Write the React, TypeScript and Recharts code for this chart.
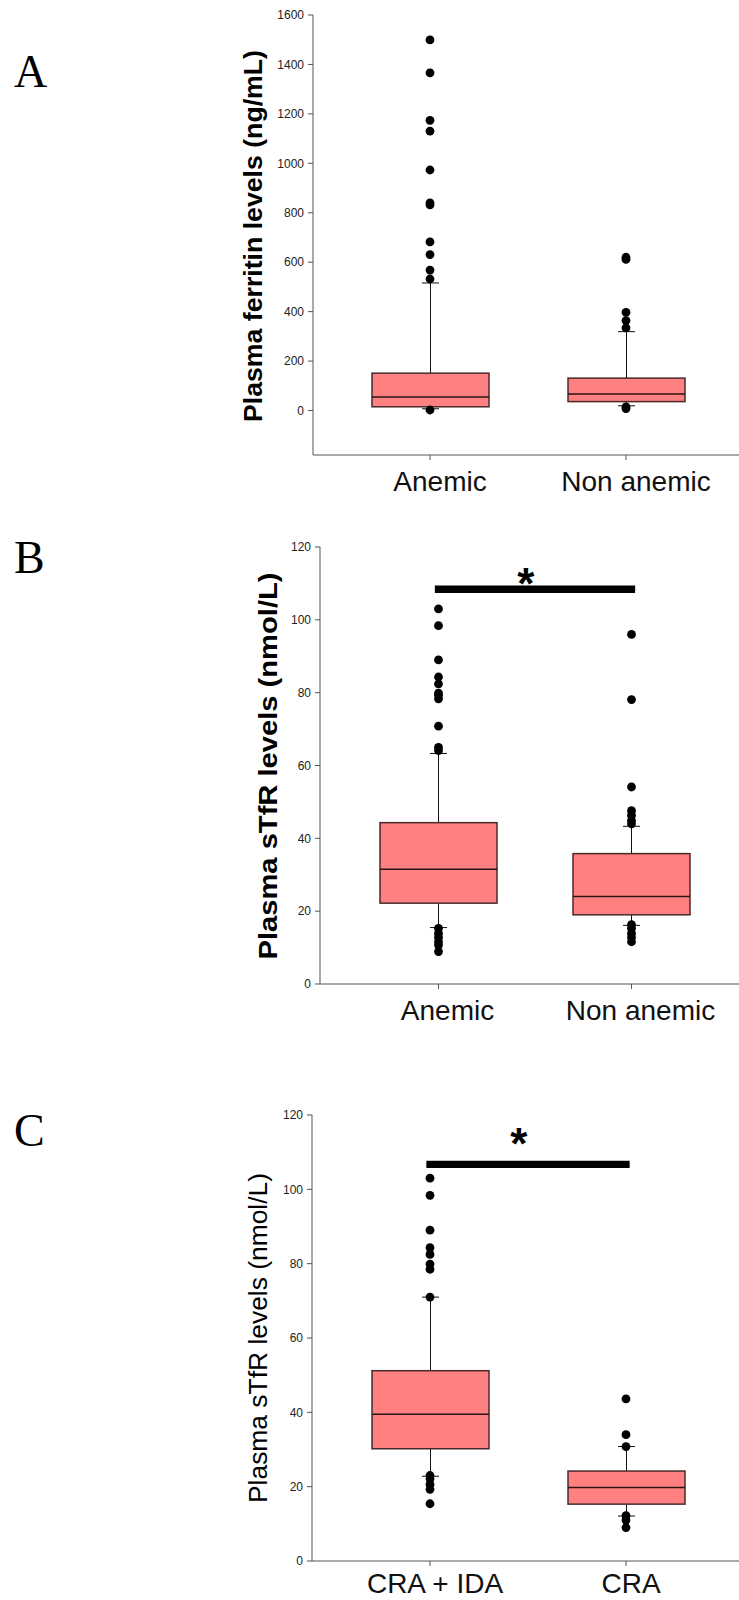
import { Bar, ComposedChart, ReferenceLine, Scatter, XAxis, YAxis } from "recharts";

const groupsAB = ["Anemic", "Non anemic"];
const groupsC = ["CRA + IDA", "CRA"];

// A: plasma ferritin (ng/mL)
const ferritinLow = [7, 19];
const ferritinQ1 = [15, 36];
const ferritinMedian = [55, 67];
const ferritinQ3 = [151, 131];
const ferritinHigh = [516, 319];
const ferritinOutAnemic = [1499, 1366, 1174, 1130, 973, 840, 832, 682, 631, 568, 532, 2];
const ferritinOutNonAnemic = [620, 611, 397, 364, 334, 15, 8];
const ferritinTicks = [0, 200, 400, 600, 800, 1000, 1200, 1400, 1600];

// B: plasma sTfR (nmol/L), anemic vs non anemic
const stfrLow = [15.5, 16.1];
const stfrQ1 = [22.2, 19.0];
const stfrMedian = [31.5, 24.0];
const stfrQ3 = [44.3, 35.8];
const stfrHigh = [63.3, 43.3];
const stfrOutAnemic = [103.0, 98.4, 89.0, 84.3, 82.4, 79.9, 79.3, 78.3, 70.8, 65.0, 64.1, 15.3, 13.9, 12.8, 11.6, 10.7, 8.9];
const stfrOutNonAnemic = [96.0, 78.1, 54.1, 47.6, 46.3, 44.9, 44.0, 16.3, 15.3, 13.9, 12.8, 11.6];
const stfrSig = 108.4;

// C: plasma sTfR (nmol/L), CRA + IDA vs CRA
const craLow = [22.8, 12.1];
const craQ1 = [30.2, 15.3];
const craMedian = [39.5, 19.8];
const craQ3 = [51.2, 24.2];
const craHigh = [71.0, 30.8];
const craOutIda = [103.0, 98.4, 89.0, 84.3, 82.5, 79.9, 78.5, 71.0, 23.0, 22.1, 20.6, 19.3, 15.4];
const craOutOnly = [43.6, 34.0, 30.8, 12.2, 11.0, 9.0];
const craSig = 106.7;

const stfrTicks = [0, 20, 40, 60, 80, 100, 120];

const FONT = "'Liberation Sans', Arial, sans-serif";

type BoxRow = {
  name: string;
  box: [number, number];
  lo: number;
  q1: number;
  med: number;
  q3: number;
  hi: number;
};

type OutlierRow = { name: string; v: number };

function boxRows(names: string[], lo: number[], q1: number[], med: number[], q3: number[], hi: number[]): BoxRow[] {
  return names.map((name, i) => ({
    name,
    box: [q1[i], q3[i]],
    lo: lo[i],
    q1: q1[i],
    med: med[i],
    q3: q3[i],
    hi: hi[i],
  }));
}

function outlierRows(name: string, values: number[]): OutlierRow[] {
  return values.map((v) => ({ name, v }));
}

// box + whiskers, using the bar's own pixel scale (height / (q3 - q1))
function BoxShape(props: any) {
  const { x, y, width, height } = props;
  const p = props.payload as BoxRow;
  const top = Math.min(y, y + height);
  const h = Math.abs(height);
  const k = h / (p.q3 - p.q1);
  const bottom = top + h;
  const cx = x + width / 2;
  const yHi = top - (p.hi - p.q3) * k;
  const yLo = bottom + (p.q1 - p.lo) * k;
  const yMed = top + (p.q3 - p.med) * k;
  const cap = 8.5;
  return (
    <g>
      <line x1={cx} x2={cx} y1={yHi} y2={top} stroke="#111" />
      <line x1={cx} x2={cx} y1={bottom} y2={yLo} stroke="#111" />
      <line x1={cx - cap} x2={cx + cap} y1={yHi} y2={yHi} stroke="#111" />
      <line x1={cx - cap} x2={cx + cap} y1={yLo} y2={yLo} stroke="#111" />
      <rect x={x} y={top} width={width} height={h} fill="#FF8080" stroke="#4a2a2a" strokeWidth={1.5} />
      <line x1={x} x2={x + width} y1={yMed} y2={yMed} stroke="#2a1515" strokeWidth={1.5} />
    </g>
  );
}

function OutlierDot(props: any) {
  return <circle cx={props.cx} cy={props.cy} r={4.4} fill="#000" />;
}

type PanelProps = {
  rows: BoxRow[];
  outliers: OutlierRow[];
  domain: [number, number];
  ticks: number[];
  height: number;
  marginTop: number;
  axisWidth: number;
  xAxisHeight: number;
  padding: { left: number; right: number };
  yLabel: string;
  labelBold: boolean;
  labelX: number;
  labelY: number;
  labelLength: number;
  tickDx: number;
  tickDy: number;
  sig?: number;
  starDy?: number;
};

function Panel(p: PanelProps) {
  const [first, second] = p.rows.map((r) => r.name);
  return (
    <ComposedChart
      width={739}
      height={p.height}
      data={p.rows}
      margin={{ top: p.marginTop, right: 0, bottom: 0, left: 0 }}
      style={{ fontFamily: FONT }}
    >
      <XAxis
        dataKey="name"
        type="category"
        allowDuplicatedCategory={false}
        padding={p.padding}
        height={p.xAxisHeight}
        tickSize={5}
        axisLine={{ stroke: "#555" }}
        tickLine={{ stroke: "#555" }}
        tick={(t: any) => (
          <text x={t.x + p.tickDx} y={t.y + p.tickDy} textAnchor="middle" fontSize={28} fill="#111" fontFamily={FONT}>
            {t.payload.value}
          </text>
        )}
      />
      <YAxis
        type="number"
        domain={p.domain}
        ticks={p.ticks}
        allowDataOverflow
        width={p.axisWidth}
        tickSize={5}
        tickMargin={4}
        axisLine={{ stroke: "#555" }}
        tickLine={{ stroke: "#555" }}
        tick={{ fontSize: 12, fill: "#222", fontFamily: FONT }}
        label={() => (
          <text
            x={0}
            y={0}
            transform={`translate(${p.labelX},${p.labelY}) rotate(-90)`}
            textAnchor="middle"
            fontSize={26}
            fontWeight={p.labelBold ? 700 : 400}
            fill="#000"
            fontFamily={FONT}
            textLength={p.labelLength}
            lengthAdjust="spacingAndGlyphs"
          >
            {p.yLabel}
          </text>
        )}
      />
      <Bar dataKey="box" barSize={117} shape={BoxShape} isAnimationActive={false} />
      <Scatter data={p.outliers} dataKey="v" shape={OutlierDot} isAnimationActive={false} />
      {p.sig !== undefined && (
        <ReferenceLine
          segment={[
            { x: first, y: p.sig },
            { x: second, y: p.sig },
          ]}
          stroke="#000"
          strokeWidth={7.3}
          strokeLinecap="square"
          label={(l: any) => (
            <text
              x={l.viewBox.x + l.viewBox.width / 2 - 9.3}
              y={l.viewBox.y + (p.starDy ?? 0)}
              textAnchor="middle"
              fontSize={44}
              fontWeight={700}
              fill="#000"
              fontFamily={FONT}
            >
              *
            </text>
          )}
        />
      )}
    </ComposedChart>
  );
}

const rowsA = boxRows(groupsAB, ferritinLow, ferritinQ1, ferritinMedian, ferritinQ3, ferritinHigh);
const outA = [...outlierRows(groupsAB[0], ferritinOutAnemic), ...outlierRows(groupsAB[1], ferritinOutNonAnemic)];
const rowsB = boxRows(groupsAB, stfrLow, stfrQ1, stfrMedian, stfrQ3, stfrHigh);
const outB = [...outlierRows(groupsAB[0], stfrOutAnemic), ...outlierRows(groupsAB[1], stfrOutNonAnemic)];
const rowsC = boxRows(groupsC, craLow, craQ1, craMedian, craQ3, craHigh);
const outC = [...outlierRows(groupsC[0], craOutIda), ...outlierRows(groupsC[1], craOutOnly)];

const letterStyle = {
  position: "absolute" as const,
  left: 14,
  fontFamily: "'Liberation Serif', 'Times New Roman', serif",
  fontSize: 46,
  lineHeight: "46px",
  color: "#000",
};

export default function App() {
  return (
    <div style={{ position: "absolute", left: 0, top: 0, width: 739, height: 1600, background: "#fff", overflow: "hidden" }}>
      <div style={{ position: "absolute", left: 0, top: 0 }}>
        <Panel
          rows={rowsA}
          outliers={outA}
          domain={[-180, 1600]}
          ticks={ferritinTicks}
          height={510}
          marginTop={15}
          axisWidth={313}
          xAxisHeight={55}
          padding={{ left: 19, right: 15 }}
          yLabel="Plasma ferritin levels (ng/mL)"
          labelBold
          labelX={262}
          labelY={236}
          labelLength={372}
          tickDx={10}
          tickDy={29}
        />
      </div>
      <div style={{ position: "absolute", left: 0, top: 520 }}>
        <Panel
          rows={rowsB}
          outliers={outB}
          domain={[0, 120]}
          ticks={stfrTicks}
          height={520}
          marginTop={27}
          axisWidth={320}
          xAxisHeight={56}
          padding={{ left: 22, right: 11 }}
          yLabel="Plasma sTfR levels (nmol/L)"
          labelBold
          labelX={277}
          labelY={246}
          labelLength={387}
          tickDx={9}
          tickDy={29}
          sig={stfrSig}
          starDy={10}
        />
      </div>
      <div style={{ position: "absolute", left: 0, top: 1080 }}>
        <Panel
          rows={rowsC}
          outliers={outC}
          domain={[0, 120]}
          ticks={stfrTicks}
          height={520}
          marginTop={35}
          axisWidth={312}
          xAxisHeight={39}
          padding={{ left: 20, right: 15 }}
          yLabel="Plasma sTfR levels (nmol/L)"
          labelBold={false}
          labelX={267}
          labelY={258}
          labelLength={330}
          tickDx={5}
          tickDy={25}
          sig={craSig}
          starDy={-5}
        />
      </div>
      <div style={{ ...letterStyle, top: 49 }}>A</div>
      <div style={{ ...letterStyle, top: 535 }}>B</div>
      <div style={{ ...letterStyle, top: 1108 }}>C</div>
    </div>
  );
}
